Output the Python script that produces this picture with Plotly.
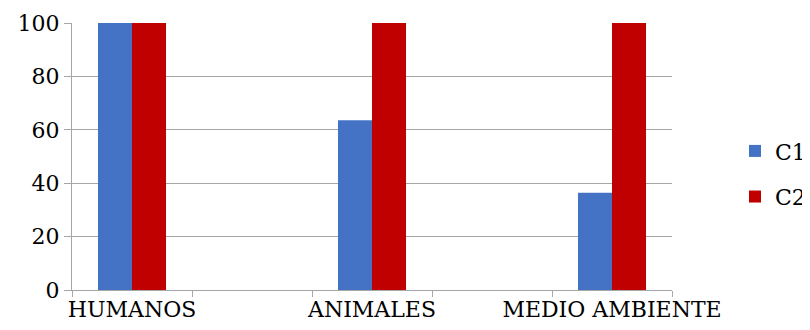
import plotly.graph_objects as go

categories = ["HUMANOS", " ", "ANIMALES", "  ", "MEDIO AMBIENTE"]
c1_values = [100, None, 63.6, None, 36.4]
c2_values = [100, None, 100, None, 100]
y_ticks = [0, 20, 40, 60, 80, 100]

FONT = "DejaVu Serif"
GRID = "#a6a6a6"

fig = go.Figure()
fig.add_trace(go.Bar(name="C1", x=categories, y=c1_values, legendgroup="a",
                     marker=dict(color="#4472c4", line=dict(width=0))))
fig.add_trace(go.Bar(name="C2", x=categories, y=c2_values, legendgroup="b",
                     marker=dict(color="#c00000", line=dict(width=0))))

fig.update_layout(
    width=802, height=322,
    margin=dict(l=64, r=138, t=15, b=40, autoexpand=False),
    paper_bgcolor="white", plot_bgcolor="white",
    barmode="group", bargap=0.433, bargroupgap=0,
    font=dict(family=FONT, size=22, color="black"),
    showlegend=True,
    legend=dict(x=1.105, y=0.434, xanchor="left", yanchor="middle",
                font=dict(family=FONT, size=22), itemwidth=30,
                tracegroupgap=14, traceorder="grouped"),
    xaxis=dict(type="category", categoryorder="array", categoryarray=categories,
               showline=True, linecolor=GRID, linewidth=1,
               ticks="outside", tickson="boundaries", ticklen=6, tickcolor=GRID,
               tickangle=0, automargin=False,
               showgrid=False, tickfont=dict(family=FONT, size=22), fixedrange=True),
    yaxis=dict(range=[0, 100], tickvals=y_ticks, showline=True, linecolor=GRID, linewidth=1,
               ticks="outside", ticklen=7, tickcolor=GRID, automargin=False,
               showgrid=True, gridcolor=GRID, gridwidth=1, zeroline=False,
               tickfont=dict(family=FONT, size=22)),
)

fig.write_html("out.html")
